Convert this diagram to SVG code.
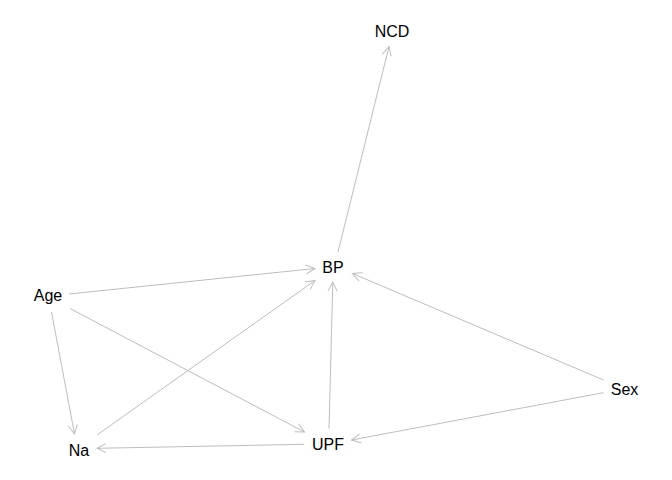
<svg xmlns="http://www.w3.org/2000/svg" width="672" height="480" viewBox="0 0 672 480">
<style>
.e{stroke:#bdbdbd;stroke-width:1;fill:none;marker-end:url(#a)}
.t{font-family:"Liberation Sans",Arial,sans-serif;font-size:16px;fill:#000;text-anchor:middle}
</style>
<defs>
<marker id="a" markerUnits="userSpaceOnUse" markerWidth="12" markerHeight="12" refX="10" refY="5" orient="auto" viewBox="0 0 12 10">
<path d="M1,0.5 L10,5 L1,9.5" fill="none" stroke="#bdbdbd" stroke-width="1"/>
</marker>
</defs>
<rect width="672" height="480" fill="#fff"/>
<g id="edges">
<line class="e" x1="338" y1="252" x2="389" y2="46.5"/>
<line class="e" x1="69" y1="294" x2="315" y2="268.5"/>
<line class="e" x1="51.5" y1="312" x2="74.5" y2="434"/>
<line class="e" x1="70" y1="308.5" x2="304.5" y2="432"/>
<line class="e" x1="97" y1="435" x2="315" y2="280.5"/>
<line class="e" x1="329" y1="428.5" x2="332.8" y2="282"/>
<line class="e" x1="304" y1="444.3" x2="97" y2="448.3"/>
<line class="e" x1="603.5" y1="380" x2="352.5" y2="273.5"/>
<line class="e" x1="603.5" y1="392.7" x2="351.5" y2="440"/>
</g>
<g id="NCD"><text class="t" x="392" y="37">NCD</text></g>
<g id="BP"><text class="t" x="333" y="272.5">BP</text></g>
<g id="Age"><text class="t" x="48" y="300.5">Age</text></g>
<g id="Na"><text class="t" x="79" y="455.5">Na</text></g>
<g id="UPF"><text class="t" x="328" y="450">UPF</text></g>
<g id="Sex"><text class="t" x="624.5" y="395">Sex</text></g>
</svg>
